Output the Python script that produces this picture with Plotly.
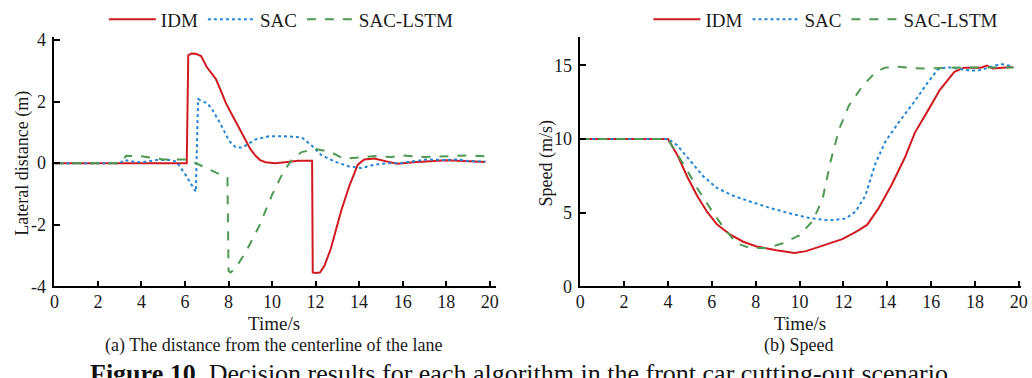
import plotly.graph_objects as go

# ---------------- data: lateral distance (m) ----------------
lat_idm_t = [0, 6.08, 6.15, 6.3, 6.5, 6.74, 7.0, 7.2, 7.42, 7.65, 7.88, 8.1, 8.33, 8.55, 8.79, 9.0, 9.24, 9.45, 9.7, 10.15, 10.7, 11.2, 11.84,
             11.87, 12.0, 12.2, 12.4, 12.7, 13.0, 13.18, 13.56, 13.94, 14.24, 14.7, 15.3, 15.76, 16.5, 17.3, 18.0, 18.8, 19.8]
lat_idm_y = [0, 0, 3.5, 3.56, 3.55, 3.48, 3.12, 2.95, 2.73, 2.35, 1.95, 1.65, 1.34, 1.02, 0.72, 0.46, 0.24, 0.1, 0.03, 0.0, 0.04, 0.08, 0.08,
             -3.55, -3.57, -3.55, -3.34, -2.78, -2.0, -1.54, -0.72, -0.05, 0.12, 0.15, 0.05, -0.02, 0.03, 0.05, 0.09, 0.07, 0.04]

lat_sac_t = [0, 3.0, 3.2, 3.6, 4.0, 4.7, 5.3, 5.6, 6.0, 6.5, 6.6, 7.0, 7.2, 7.58, 8.03, 8.33, 8.64, 9.0, 9.24, 9.85, 10.6,
             11.36, 11.82, 12.27, 12.88, 13.5, 14.1, 14.7, 15.3, 15.9, 16.5, 17.1, 18.0, 18.5, 19.0, 19.8]
lat_sac_y = [0, 0, 0.1, 0.05, 0.03, 0.1, 0.1, 0.05, -0.35, -0.93, 2.08, 1.95, 1.8, 1.34, 0.72, 0.51, 0.51, 0.65, 0.77, 0.87, 0.87,
             0.84, 0.57, 0.26, 0.05, -0.1, -0.16, -0.05, 0.0, 0.0, 0.07, 0.12, 0.1, 0.12, 0.07, 0.05]

lat_lstm_t = [0, 3.0, 3.3, 4.0, 5.0, 6.0, 6.1, 6.5, 7.95, 8.0, 8.1, 8.33, 8.8, 9.4, 10.0, 10.5, 10.9, 11.36, 12.0,
              12.7, 13.3, 14.1, 14.7, 15.5, 16.0, 17.0, 18.0, 19.0, 19.8]
lat_lstm_y = [0, 0, 0.24, 0.22, 0.12, 0.12, 0.08, 0.0, -0.48, -3.5, -3.55, -3.4, -2.88, -2.06, -1.03, -0.31, 0.1, 0.36, 0.46,
              0.36, 0.14, 0.2, 0.23, 0.2, 0.25, 0.2, 0.22, 0.25, 0.22]

# ---------------- data: speed (m/s) ----------------
spd_idm_t = [0, 4.0, 4.42, 4.88, 5.33, 5.78, 6.23, 6.83, 7.43, 8.04, 8.94, 9.77, 10.3, 11.2, 11.95, 12.55, 13.08,
             13.6, 14.2, 14.8, 15.26, 15.86, 16.4, 17.06, 17.5, 18.27, 18.54, 18.8, 19.3, 19.7]
spd_idm_y = [10, 10, 8.94, 7.44, 6.15, 5.07, 4.21, 3.52, 3.03, 2.71, 2.45, 2.26, 2.39, 2.82, 3.2, 3.68, 4.17,
             5.29, 6.9, 8.73, 10.44, 11.95, 13.35, 14.57, 14.85, 14.85, 15.0, 14.8, 14.87, 14.9]

spd_sac_t = [0, 4.0, 4.42, 5.03, 5.63, 6.23, 6.98, 7.74, 8.64, 9.54, 10.44, 11.35, 12.1, 12.55, 13.0, 13.45, 13.9,
             14.5, 15.26, 15.86, 16.31, 16.76, 17.67, 18.12, 18.57, 19.17, 19.7]
spd_sac_y = [10, 10, 9.58, 8.51, 7.44, 6.68, 6.15, 5.76, 5.33, 4.96, 4.64, 4.47, 4.6, 5.07, 6.15, 8.3, 9.8,
             11.09, 12.59, 13.88, 14.74, 14.89, 14.68, 14.64, 14.85, 15.1, 14.96]

spd_lstm_t = [0, 4.0, 4.88, 5.33, 5.93, 6.53, 7.13, 7.74, 8.49, 9.24, 9.99, 10.6, 11.05, 11.42, 11.8, 12.25, 12.85,
              13.45, 13.9, 14.5, 15.26, 15.86, 16.76, 18.27, 19.77]
spd_lstm_y = [10, 10, 7.87, 6.68, 5.29, 4.0, 2.92, 2.6, 2.6, 2.92, 3.46, 4.43, 5.93, 8.51, 10.66, 12.27, 13.56,
              14.53, 14.85, 14.92, 14.81, 14.79, 14.85, 14.85, 14.87]

x_ticks = [0, 2, 4, 6, 8, 10, 12, 14, 16, 18, 20]
lat_ticks = [-4, -2, 0, 2, 4]
lat_ticktext = ["-4", "-2", "0", "2", "4"]
spd_ticks = [0, 5, 10, 15]
names = ["IDM", "SAC", "SAC-LSTM"]

RED = "#d11a1f"
BLUE = "#2585d3"
GREEN = "#4e9a52"
FONT = "Liberation Serif"
TXT = "#1a1a1a"

W, H = 1032, 378
def px(x):
    return x / W
def py(y):
    return 1 - y / H

fig = go.Figure()

styles = [dict(color=RED, width=2, dash="solid"),
          dict(color=BLUE, width=2, dash="dot"),
          dict(color=GREEN, width=2, dash="dash")]

left = [(lat_idm_t, lat_idm_y), (lat_sac_t, lat_sac_y), (lat_lstm_t, lat_lstm_y)]
right = [(spd_idm_t, spd_idm_y), (spd_sac_t, spd_sac_y), (spd_lstm_t, spd_lstm_y)]

for i, (t, y) in enumerate(left):
    fig.add_trace(go.Scatter(x=t, y=y, mode="lines", name=names[i], line=styles[i],
                             xaxis="x", yaxis="y", legend="legend"))
for i, (t, y) in enumerate(right):
    fig.add_trace(go.Scatter(x=t, y=y, mode="lines", name=names[i], line=styles[i],
                             xaxis="x2", yaxis="y2", legend="legend2"))

axis_common = dict(showgrid=False, zeroline=False, showline=True, linecolor="black", linewidth=1.5,
                   ticks="inside", ticklen=6, tickwidth=1.5, tickcolor="black", ticklabeloverflow="allow",
                   tickfont=dict(family=FONT, size=18, color=TXT))

ydom = [py(292), py(30)]
leg_common = dict(orientation="h", xanchor="left", yanchor="top", itemwidth=47,
                  font=dict(family=FONT, size=19, color=TXT), bgcolor="rgba(0,0,0,0)", tracegroupgap=0)
fig.update_layout(
    width=W, height=H, margin=dict(l=0, r=0, t=0, b=0),
    paper_bgcolor="white", plot_bgcolor="white",
    font=dict(family=FONT, size=18, color=TXT),
    xaxis=dict(domain=[px(50), px(497)], range=[0, 20.3], tickvals=x_ticks, anchor="y",
               ticklabelstandoff=-2, **axis_common),
    yaxis=dict(domain=ydom, range=[-4, 4.08], tickvals=lat_ticks, ticktext=lat_ticktext, anchor="x",
               ticklabelstandoff=3, **axis_common),
    xaxis2=dict(domain=[px(582), px(1028)], range=[0, 20.1], tickvals=x_ticks, anchor="y2",
                ticklabelstandoff=-2, **axis_common),
    yaxis2=dict(domain=ydom, range=[0, 16.9], tickvals=spd_ticks, anchor="x2", ticklabelstandoff=3, **axis_common),
    legend=dict(x=px(100), y=py(-9), **leg_common),
    legend2=dict(x=px(651), y=py(-9), **leg_common),
    showlegend=True,
)

ann = [
    dict(text="Lateral distance (m)", x=px(18), y=py(162), textangle=-90, size=18),
    dict(text="Speed (m/s)", x=px(548), y=py(163), textangle=-90, size=18),
    dict(text="Time/s", x=px(272), y=py(331), size=19),
    dict(text="Time/s", x=px(804), y=py(331), size=19),
    dict(text="(a) The distance from the centerline of the lane", x=px(272), y=py(354), size=18),
    dict(text="(b) Speed", x=px(803), y=py(354), size=18),
]
for a in ann:
    s = a.pop("size")
    fig.add_annotation(xref="paper", yref="paper", showarrow=False, xanchor="center", yanchor="middle",
                       font=dict(family=FONT, size=s, color=TXT), **a)

fig.add_annotation(xref="paper", yref="paper", showarrow=False, xanchor="center", yanchor="middle",
                   x=px(520), y=py(384),
                   text="<b>Figure 10.</b> Decision results for each algorithm in the front car cutting-out scenario",
                   font=dict(family=FONT, size=26, color="#111"))

fig.write_html("out.html")
